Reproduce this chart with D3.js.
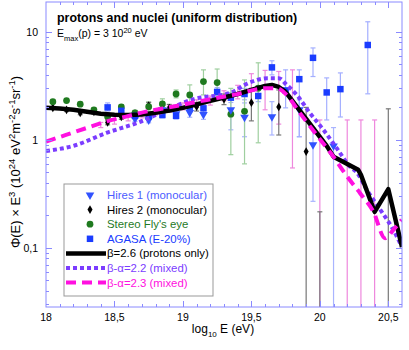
<!DOCTYPE html>
<html><head><meta charset="utf-8">
<script src="https://cdn.jsdelivr.net/npm/d3@7"></script>
<style>
body{margin:0;background:#fff}
svg{display:block;font-family:"Liberation Sans",Arial,Helvetica,sans-serif}
</style>
</head><body>
<svg id="c" width="409" height="350"></svg>
<script>
// ---------- data ----------
const xTicks = [18, 18.5, 19, 19.5, 20, 20.5];
const xTickLabels = ["18", "18,5", "19", "19,5", "20", "20,5"];
const yTicks = [0.1, 1, 10];
const yTickLabels = ["0,1", "1", "10"];

// [log10 E, value, low, high]
const stereo = [
  [18.05, 2.26, 2.18, 2.34], [18.15, 2.31, 2.22, 2.40], [18.25, 2.14, 2.05, 2.23],
  [18.35, 1.90, 1.82, 1.98], [18.45, 1.64, 1.56, 1.72], [18.55, 2.02, 1.92, 2.12],
  [18.65, 1.78, 1.68, 1.88], [18.75, 2.03, 1.85, 2.25], [18.85, 2.15, 1.95, 2.40],
  [18.95, 2.66, 2.45, 2.90], [19.05, 2.61, 2.19, 3.23], [19.15, 3.47, 2.61, 4.45],
  [19.25, 3.39, 2.61, 4.53], [19.35, 1.73, 0.73, 3.00], [19.45, 1.84, 0.60, 3.59],
  [19.55, 3.01, 0.94, 5.17]
];
const agasa = [
  [18.45, 2.00, 1.85, 2.20], [18.55, 1.86, 1.75, 1.98], [18.65, 1.67, 1.58, 1.77],
  [18.75, 1.65, 1.56, 1.75], [18.85, 1.70, 1.60, 1.80], [18.95, 1.67, 1.56, 1.79],
  [19.05, 2.03, 1.88, 2.18], [19.15, 1.96, 1.80, 2.13], [19.25, 2.78, 2.55, 3.05],
  [19.35, 2.46, 2.22, 2.74], [19.45, 2.66, 2.35, 3.00], [19.55, 2.55, 2.26, 3.10],
  [19.65, 4.69, 4.00, 5.40], [19.75, 2.87, 1.98, 4.45], [19.85, 3.65, 1.07, 4.45],
  [19.95, 5.75, 3.86, 7.10], [20.05, 2.75, 1.53, 3.75], [20.15, 2.95, 1.63, 4.17],
  [20.35, 7.56, 2.67, 12.4]
];
const hires1 = [
  [18.65, 1.57, 1.48, 1.66], [18.75, 1.53, 1.44, 1.62], [18.85, 1.90, 1.78, 2.02],
  [18.95, 1.75, 1.62, 1.88], [19.05, 1.79, 1.62, 1.95], [19.15, 1.72, 1.55, 1.90],
  [19.35, 1.90, 1.24, 2.35], [19.45, 1.62, 1.07, 2.20], [19.65, 1.64, 1.11, 2.26],
  [19.85, 1.90, 1.07, 2.35], [19.95, 0.90, 0.27, 1.30], [20.10, 0.88, 0.01, 1.30]
];
const hires2 = [
  [18.05, 1.98, 1.92, 2.04], [18.15, 1.90, 1.83, 1.97], [18.25, 1.78, 1.71, 1.85],
  [18.35, 1.82, 1.74, 1.90], [18.45, 1.45, 1.38, 1.52], [18.55, 1.63, 1.55, 1.71],
  [18.65, 1.75, 1.66, 1.84], [18.75, 2.08, 1.95, 2.22], [18.90, 1.97, 1.82, 2.13],
  [19.10, 2.03, 1.85, 2.22], [19.30, 2.38, 2.12, 2.66], [19.50, 2.21, 1.50, 3.00],
  [19.70, 2.02, 1.11, 2.90], [19.90, 0.78, 0.01, 2.00]
];
// error bars without a visible marker: [log10 E, low, high]
const hires2Limits = [[20.50, 0.01, 1.94], [20.00, 0.01, 0.216]];
const pinkBars = [
  [18.4, 1.30, 1.45], [18.5, 1.40, 1.56], [18.6, 1.50, 1.67], [18.7, 1.60, 1.78],
  [18.8, 1.70, 1.92], [18.9, 1.80, 2.05], [19.0, 1.90, 2.20], [19.1, 2.00, 2.35],
  [19.2, 2.10, 2.55], [19.3, 2.30, 2.85], [19.4, 2.40, 3.20], [19.5, 2.20, 4.10],
  [19.6, 1.90, 4.40], [19.7, 1.40, 4.30], [19.8, 0.55, 4.45], [20.0, 0.01, 1.53],
  [20.2, 0.01, 1.53], [20.3, 0.01, 1.53], [20.4, 0.01, 1.53]
];

// model curves: [log10 E, value]
const beta26 = [
  [18.0, 1.98], [18.1, 1.95], [18.2, 1.90], [18.3, 1.82], [18.4, 1.75], [18.5, 1.71],
  [18.6, 1.70], [18.7, 1.72], [18.8, 1.78], [18.9, 1.87], [19.0, 1.98], [19.1, 2.13],
  [19.2, 2.30], [19.3, 2.47], [19.4, 2.66], [19.5, 2.90], [19.6, 3.16], [19.65, 3.23],
  [19.7, 3.09], [19.75, 2.78], [19.85, 1.90], [19.95, 1.29], [20.05, 0.88], [20.10, 0.70],
  [20.28, 0.53], [20.30, 0.475], [20.40, 0.216], [20.50, 0.35], [20.60, 0.102]
];
const betaAlpha22 = [
  [18.0, 0.79], [18.2, 0.88], [18.44, 1.16], [18.687, 1.47], [18.836, 1.78], [19.076, 2.38],
  [19.344, 2.72], [19.49, 3.41], [19.62, 3.73], [19.70, 3.73], [19.758, 3.23], [19.831, 2.61],
  [19.928, 1.77], [20.026, 1.24], [20.123, 0.84], [20.22, 0.566], [20.27, 0.50], [20.343, 0.345],
  [20.452, 0.216], [20.537, 0.147], [20.598, 0.103]
];
const betaAlpha23 = [
  [18.0, 0.964], [18.146, 1.112], [18.292, 1.283], [18.438, 1.477], [18.584, 1.644],
  [18.73, 1.828], [18.93, 2.035], [19.174, 2.345], [19.368, 2.609], [19.612, 3.01],
  [19.685, 3.01], [19.758, 2.61], [19.855, 1.77], [19.977, 1.11], [20.099, 0.70],
  [20.196, 0.464], [20.294, 0.321], [20.391, 0.217], [20.476, 0.123], [20.537, 0.147],
  [20.598, 0.182]
];

const legendLabels = ["Hires 1 (monocular)", "Hires 2 (monocular)", "Stereo Fly's eye", "AGASA (E-20%)",
  "\u03b2=2.6 (protons only)", "\u03b2-\u03b1=2.2 (mixed)", "\u03b2-\u03b1=2.3 (mixed)"];

// ---------- drawing ----------
const svg = d3.select("#c");
const L = 46, R = 402, T = 2, B = 307;
const x = d3.scaleLinear().domain([18, 20.6]).range([L, R]);
const y = d3.scaleLog().domain([0.0284, 18.9]).range([B, T]);
const frameCol = "#8a8aff";

svg.append("clipPath").attr("id", "clip").append("rect")
  .attr("x", L).attr("y", T).attr("width", R - L).attr("height", B - T);

const plot = svg.append("g").attr("clip-path", "url(#clip)");

function errBars(data, col, w, cap) {
  const g = plot.append("g").attr("stroke", col).attr("stroke-width", w);
  data.forEach(d => {
    const lo = d[d.length - 2], hi = d[d.length - 1];
    const xx = x(d[0]);
    g.append("line").attr("x1", xx).attr("x2", xx).attr("y1", y(Math.max(lo, 0.005))).attr("y2", y(hi));
    g.append("line").attr("x1", xx - cap).attr("x2", xx + cap).attr("y1", y(hi)).attr("y2", y(hi));
    if (lo > 0.03) g.append("line").attr("x1", xx - cap).attr("x2", xx + cap).attr("y1", y(lo)).attr("y2", y(lo));
  });
}

errBars(pinkBars, "#ee88dd", 1.2, 2.5);
errBars(hires1, "#a9b4ff", 1.2, 2.5);
errBars(agasa, "#a4afff", 1.2, 2.5);
errBars(stereo, "#9fcf9f", 1.2, 2.5);
errBars(hires2, "#777", 1.2, 2.5);
errBars(hires2Limits, "#777", 1.2, 2.5);

// markers
const sym = {
  tri: d3.symbol().type(d3.symbolTriangle).size(32),
  dia: d3.symbol().type(d3.symbolDiamond).size(22),
  cir: d3.symbol().type(d3.symbolCircle).size(36),
  sq: d3.symbol().type(d3.symbolSquare).size(42)
};
function markers(data, s, col, rot) {
  plot.append("g").selectAll("path").data(data).join("path")
    .attr("d", s)
    .attr("fill", col)
    .attr("transform", d => `translate(${x(d[0])},${y(d[1])})` + (rot ? " rotate(180)" : ""));
}
markers(hires2, sym.dia, "#000", false);
markers(stereo, sym.cir, "#1f7a1f", false);
markers(hires1, sym.tri, "#3152ff", true);
markers(agasa, sym.sq, "#1a3cff", false);

// curves
const smooth = d3.line().x(d => x(d[0])).y(d => y(d[1])).curve(d3.curveMonotoneX);
const straight = d3.line().x(d => x(d[0])).y(d => y(d[1]));
plot.append("path").datum(betaAlpha22).attr("d", smooth).attr("fill", "none")
  .attr("stroke", "#7b3cff").attr("stroke-width", 4).attr("stroke-dasharray", "4,3");
plot.append("path").datum(beta26).attr("d", straight).attr("fill", "none")
  .attr("stroke", "#000").attr("stroke-width", 4.5).attr("stroke-linejoin", "round");
plot.append("path").datum(betaAlpha23).attr("d", smooth).attr("fill", "none")
  .attr("stroke", "#ff10e0").attr("stroke-width", 4).attr("stroke-dasharray", "10,6");

// frame
svg.append("rect").attr("x", L).attr("y", T).attr("width", R - L).attr("height", B - T)
  .attr("fill", "none").attr("stroke", frameCol).attr("stroke-width", 1);

// x ticks (inside, bottom and top)
const xMinor = d3.range(18.1, 20.6, 0.1);
const tg = svg.append("g").attr("stroke", frameCol).attr("stroke-width", 1);
xMinor.forEach(v => {
  const xx = Math.round(x(v)) + 0.5;
  const len = Math.abs(v * 2 - Math.round(v * 2)) < 1e-6 ? 6 : 3;
  tg.append("line").attr("x1", xx).attr("x2", xx).attr("y1", B).attr("y2", B - len);
  tg.append("line").attr("x1", xx).attr("x2", xx).attr("y1", T).attr("y2", T + len);
});
// y ticks (inside, left and right)
const yMinor = [];
[0.01, 0.1, 1, 10].forEach(dec => { for (let k = 1; k <= 9; k++) yMinor.push(dec * k); });
yMinor.filter(v => v >= 0.0284 && v <= 18.9).forEach(v => {
  const yy = Math.round(y(v)) + 0.5;
  const major = yTicks.some(t => Math.abs(t - v) < 1e-9);
  const len = major ? 6 : 3;
  tg.append("line").attr("x1", L).attr("x2", L + len).attr("y1", yy).attr("y2", yy);
  tg.append("line").attr("x1", R).attr("x2", R - len).attr("y1", yy).attr("y2", yy);
});

// tick labels
svg.append("g").selectAll("text").data(xTicks).join("text")
  .attr("x", d => x(d)).attr("y", B + 14).attr("text-anchor", "middle")
  .attr("font-size", 10.5).attr("fill", "#000").text((d, i) => xTickLabels[i]);
svg.append("g").selectAll("text").data(yTicks).join("text")
  .attr("x", 38).attr("y", d => y(d) + 4).attr("text-anchor", "end")
  .attr("font-size", 10.5).attr("fill", "#000").text((d, i) => yTickLabels[i]);

// axis titles
const xl = svg.append("text").attr("x", 223).attr("y", 333).attr("text-anchor", "middle")
  .attr("font-size", 12).attr("fill", "#000");
xl.append("tspan").text("log");
xl.append("tspan").attr("dy", 4).attr("font-size", 8).text("10");
xl.append("tspan").attr("dy", -4).text(" E (eV)");

const yl = svg.append("text").attr("transform", "translate(20,162) rotate(-90)")
  .attr("text-anchor", "middle").attr("font-size", 13).attr("fill", "#000");
const ySeg = [["\u03a6(E) \u00d7 E", 0], ["3", 1], [" (10", 0], ["24", 1], [" eV", 0], ["2", 1],
  ["m", 0], ["-2", 1], ["s", 0], ["-1", 1], ["sr", 0], ["-1", 1], [")", 0]];
let prevSup = 0;
ySeg.forEach(([t, s]) => {
  const ts = yl.append("tspan").text(t).attr("font-size", s ? 9.5 : 13);
  const dy = (s ? -5 : 0) - (prevSup ? -5 : 0);
  if (dy) ts.attr("dy", dy);
  prevSup = s;
});

// titles inside plot
svg.append("text").attr("x", 57).attr("y", 22).attr("font-size", 12.4).attr("font-weight", "bold")
  .attr("fill", "#000").text("protons and nuclei (uniform distribution)");
const em = svg.append("text").attr("x", 57).attr("y", 37).attr("font-size", 10.5).attr("fill", "#000");
em.append("tspan").text("E");
em.append("tspan").attr("dy", 4).attr("font-size", 7.5).text("max");
em.append("tspan").attr("dy", -4).text("(p) = 3 10");
em.append("tspan").attr("dy", -4).attr("font-size", 7.5).text("20");
em.append("tspan").attr("dy", 4).text(" eV");

// legend
const lg = svg.append("g");
lg.append("rect").attr("x", 64).attr("y", 184).attr("width", 149).attr("height", 112)
  .attr("fill", "#fff").attr("stroke", "#999").attr("stroke-width", 1);
const rowY = d3.range(7).map(i => 195 + i * 14.6);
const legCols = ["#4b5cff", "#000", "#1f7a1f", "#1a3cff", "#000", "#7b3cff", "#ff10e0"];
legendLabels.forEach((t, i) => {
  lg.append("text").attr("x", 107).attr("y", rowY[i] + 4).attr("font-size", 11.4)
    .attr("fill", legCols[i]).text(t);
});
const symDefs = [[sym.tri, "#3152ff", true], [sym.dia, "#000", false], [sym.cir, "#1f7a1f", false], [sym.sq, "#1a3cff", false]];
symDefs.forEach(([s, c, r], i) => {
  lg.append("path").attr("d", s).attr("fill", c)
    .attr("transform", `translate(90,${rowY[i]})` + (r ? " rotate(180)" : ""));
});
const lineDefs = [["#000", 4.5, null], ["#7b3cff", 4, "4,3"], ["#ff10e0", 4, "10,6"]];
lineDefs.forEach(([c, w, da], i) => {
  const l = lg.append("line").attr("x1", 66).attr("x2", 106).attr("y1", rowY[4 + i]).attr("y2", rowY[4 + i])
    .attr("stroke", c).attr("stroke-width", w);
  if (da) l.attr("stroke-dasharray", da);
});
</script>
</body></html>
